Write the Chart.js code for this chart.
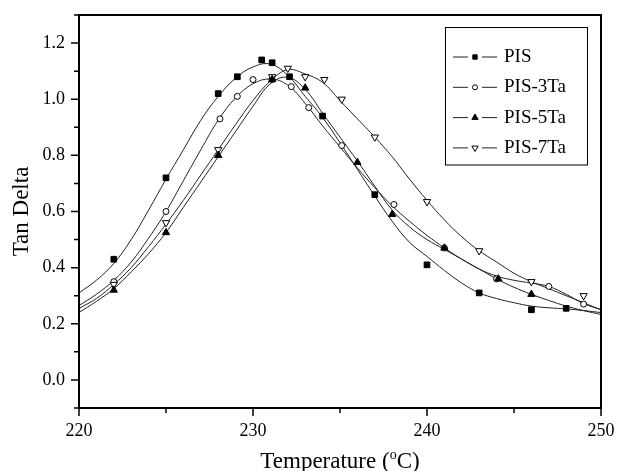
<!DOCTYPE html>
<html>
<head>
<meta charset="utf-8">
<script src="https://cdn.jsdelivr.net/npm/chart.js"></script>
<style>
  html, body { margin: 0; padding: 0; background: #fff; }
  #grafico { display: block; }
</style>
</head>
<body>
<canvas id="grafico" width="617" height="471"></canvas>
<script>
"use strict"

// Series (nombres de la leyenda)
const series = ['PIS', 'PIS-3Ta', 'PIS-5Ta', 'PIS-7Ta'];

// Puntos medidos
const xPIS = [222, 225, 228, 229.1, 230.5, 231.1, 232.1, 234, 237, 240, 243, 246, 248];
const yPIS = [0.43, 0.72, 1.02, 1.08, 1.14, 1.13, 1.08, 0.94, 0.66, 0.41, 0.31, 0.25, 0.255];

const x3Ta = [222, 225, 228.1, 229.1, 230, 231.1, 232.2, 233.2, 235.1, 238.1, 241, 244, 247, 249];
const y3Ta = [0.35, 0.60, 0.93, 1.01, 1.07, 1.07, 1.045, 0.97, 0.835, 0.625, 0.47, 0.36, 0.333, 0.27];

const x5Ta = [222, 225, 228, 231.1, 233, 236, 238, 241, 244.1, 246];
const y5Ta = [0.32, 0.525, 0.80, 1.07, 1.04, 0.775, 0.59, 0.47, 0.36, 0.305];

const x7Ta = [222, 225, 228, 231.1, 232, 233, 234.1, 235.1, 237, 240, 243, 246, 249];
const y7Ta = [0.34, 0.56, 0.82, 1.08, 1.11, 1.08, 1.07, 1.0, 0.865, 0.635, 0.46, 0.35, 0.30];

const xCurva = [220, 221, 222, 223, 224, 225, 226, 227, 228, 229, 230, 231, 232, 233, 234, 235,
                236, 237, 238, 239, 240, 241, 242, 243, 244, 245, 246, 247, 248, 249, 250];
const curvaPIS = [0.31, 0.355, 0.415, 0.50, 0.605, 0.715, 0.82, 0.925, 1.01, 1.075, 1.115, 1.125, 1.085, 1.01, 0.935, 0.845,
                  0.75, 0.655, 0.565, 0.49, 0.44, 0.39, 0.345, 0.31, 0.29, 0.275, 0.263, 0.257, 0.253, 0.247, 0.24];
const curva3Ta = [0.265, 0.305, 0.355, 0.42, 0.505, 0.60, 0.71, 0.82, 0.925, 1.005, 1.055, 1.072, 1.05, 0.985, 0.905, 0.83,
                  0.755, 0.685, 0.62, 0.565, 0.515, 0.47, 0.43, 0.395, 0.37, 0.355, 0.345, 0.333, 0.305, 0.272, 0.25];
const curva5Ta = [0.24, 0.28, 0.325, 0.385, 0.45, 0.525, 0.615, 0.705, 0.795, 0.885, 0.975, 1.055, 1.078, 1.035, 0.95, 0.865,
                  0.78, 0.69, 0.605, 0.545, 0.50, 0.465, 0.43, 0.395, 0.36, 0.33, 0.305, 0.283, 0.263, 0.247, 0.233];
const curva7Ta = [0.255, 0.29, 0.34, 0.40, 0.475, 0.555, 0.64, 0.73, 0.82, 0.91, 0.995, 1.065, 1.105, 1.09, 1.06, 0.995,
                  0.93, 0.865, 0.795, 0.715, 0.64, 0.57, 0.51, 0.46, 0.42, 0.38, 0.35, 0.325, 0.30, 0.275, 0.25];

// Etiquetas de los ejes
const xTicks = [220, 230, 240, 250];
const yTicks = [0.0, 0.2, 0.4, 0.6, 0.8, 1.0, 1.2];
const tituloX = ['Temperature (', 'o', 'C)'];
const tituloY = 'Tan Delta';

const fuente = '"Liberation Serif", "Times New Roman", serif';

const pares = (xs, ys) => xs.map((v, i) => ({ x: v, y: ys[i] }));

function marcador(ctx, estilo, x, y, r, lleno) {
    ctx.beginPath();
    if (estilo === 'rect') {
        ctx.rect(x - r, y - r, 2 * r, 2 * r);
    } else if (estilo === 'circle') {
        ctx.arc(x, y, r, 0, Math.PI * 2);
    } else if (estilo === 'triangle') {
        ctx.moveTo(x, y - r);
        ctx.lineTo(x + r * 0.87, y + r * 0.5);
        ctx.lineTo(x - r * 0.87, y + r * 0.5);
        ctx.closePath();
    } else {
        ctx.moveTo(x, y + r);
        ctx.lineTo(x + r * 0.87, y - r * 0.5);
        ctx.lineTo(x - r * 0.87, y - r * 0.5);
        ctx.closePath();
    }
    ctx.fillStyle = lleno ? '#000' : '#fff';
    ctx.fill();
    ctx.lineWidth = 1;
    ctx.strokeStyle = '#000';
    ctx.stroke();
}

// Marco, ticks y titulos de los ejes
const marcoPlugin = {
    id: 'marco',
    afterDraw(chart) {
        const { ctx, chartArea: a, scales: { x, y } } = chart;
        ctx.save();
        ctx.strokeStyle = '#000';
        ctx.lineWidth = 2;
        ctx.strokeRect(a.left, a.top, a.right - a.left, a.bottom - a.top);

        ctx.lineWidth = 1.5;
        ctx.beginPath();
        x.ticks.forEach(t => {
            const px = x.getPixelForValue(t.value);
            const largo = xTicks.includes(t.value) ? 8 : 5;
            ctx.moveTo(px, a.bottom);
            ctx.lineTo(px, a.bottom + largo);
        });
        y.ticks.forEach(t => {
            const py = y.getPixelForValue(t.value);
            const largo = yTicks.some(v => Math.abs(v - t.value) < 1e-6) ? 8 : 5;
            ctx.moveTo(a.left, py);
            ctx.lineTo(a.left - largo, py);
        });
        ctx.stroke();

        // Titulo eje Y
        ctx.fillStyle = '#000';
        ctx.font = `23px ${fuente}`;
        ctx.save();
        ctx.translate(28, (a.top + a.bottom) / 2);
        ctx.rotate(-Math.PI / 2);
        ctx.textAlign = 'center';
        ctx.textBaseline = 'alphabetic';
        ctx.fillText(tituloY, 0, 0);
        ctx.restore();

        // Titulo eje X con el superindice
        const fNormal = `23px ${fuente}`;
        const fSup = `14px ${fuente}`;
        ctx.font = fNormal;
        const w1 = ctx.measureText(tituloX[0]).width;
        const w3 = ctx.measureText(tituloX[2]).width;
        ctx.font = fSup;
        const w2 = ctx.measureText(tituloX[1]).width;
        let px = (a.left + a.right) / 2 - (w1 + w2 + w3) / 2;
        const base = 468;
        ctx.textAlign = 'left';
        ctx.textBaseline = 'alphabetic';
        ctx.font = fNormal;
        ctx.fillText(tituloX[0], px, base);
        px += w1;
        ctx.font = fSup;
        ctx.fillText(tituloX[1], px, base - 9);
        px += w2;
        ctx.font = fNormal;
        ctx.fillText(tituloX[2], px, base);
        ctx.restore();
    }
};

// Leyenda con recuadro dentro del area
const leyendaPlugin = {
    id: 'leyendaCaja',
    afterDraw(chart) {
        const ctx = chart.ctx;
        const estilos = [
            { forma: 'rect', r: 2.2, lleno: true },
            { forma: 'circle', r: 2.5, lleno: false },
            { forma: 'triangle', r: 3.6, lleno: true },
            { forma: 'triangleDown', r: 3.6, lleno: false },
        ];
        ctx.save();
        ctx.strokeStyle = '#000';
        ctx.lineWidth = 1;
        ctx.strokeRect(445.5, 27.5, 142, 137.5);
        ctx.font = `19px ${fuente}`;
        ctx.textBaseline = 'middle';
        ctx.textAlign = 'left';
        series.forEach((nombre, i) => {
            const fy = 57 + i * 30.3;
            ctx.beginPath();
            ctx.lineWidth = 1;
            ctx.strokeStyle = '#222';
            ctx.moveTo(453, fy); ctx.lineTo(468, fy);
            ctx.moveTo(482, fy); ctx.lineTo(497, fy);
            ctx.stroke();
            const e = estilos[i];
            marcador(ctx, e.forma, 475, fy, e.r, e.lleno);
            ctx.fillStyle = '#000';
            ctx.fillText(nombre, 504, fy);
        });
        ctx.restore();
    }
};

const curva = (ys) => ({
    data: pares(xCurva, ys),
    showLine: true,
    pointRadius: 0,
    borderColor: '#222',
    borderWidth: 1,
    tension: 0.4,
});

const puntos = (xs, ys, estilo, radio, relleno, rotacion) => ({
    data: pares(xs, ys),
    showLine: false,
    pointStyle: estilo,
    pointRadius: radio,
    pointRotation: rotacion || 0,
    pointBackgroundColor: relleno,
    pointBorderColor: '#000',
    pointBorderWidth: 1,
});

new Chart(document.getElementById('grafico'), {
    type: 'scatter',
    data: {
        datasets: [
            puntos(xPIS, yPIS, 'rect', 4, '#000'),
            puntos(x5Ta, y5Ta, 'triangle', 4.2, '#000'),
            puntos(x7Ta, y7Ta, 'triangle', 4.2, '#fff', 180),
            puntos(x3Ta, y3Ta, 'circle', 3, '#fff'),
            curva(curvaPIS),
            curva(curva3Ta),
            curva(curva5Ta),
            curva(curva7Ta),
        ]
    },
    options: {
        responsive: false,
        animation: false,
        devicePixelRatio: 1,
        events: [],
        layout: { padding: { top: 15, right: 16, left: 0, bottom: 0 } },
        plugins: {
            legend: { display: false },
            tooltip: { enabled: false },
        },
        scales: {
            x: {
                type: 'linear',
                min: 220,
                max: 250,
                afterFit: s => { s.height = 63; s.paddingLeft = 0; s.paddingRight = 0; },
                grid: { display: false, drawTicks: false },
                border: { display: false },
                ticks: {
                    stepSize: 5,
                    autoSkip: false,
                    maxRotation: 0,
                    padding: 12,
                    color: '#000',
                    font: { family: fuente, size: 18 },
                    callback: v => xTicks.includes(v) ? String(v) : '',
                },
            },
            y: {
                min: -0.1,
                max: 1.3,
                afterFit: s => { s.width = 79; s.paddingTop = 0; s.paddingBottom = 0; },
                grid: { display: false, drawTicks: false },
                border: { display: false },
                ticks: {
                    stepSize: 0.1,
                    autoSkip: false,
                    padding: 14,
                    color: '#000',
                    font: { family: fuente, size: 18 },
                    callback: v => yTicks.some(t => Math.abs(t - v) < 1e-6) ? v.toFixed(1) : '',
                },
            },
        },
    },
    plugins: [marcoPlugin, leyendaPlugin],
});
</script>
</body>
</html>
